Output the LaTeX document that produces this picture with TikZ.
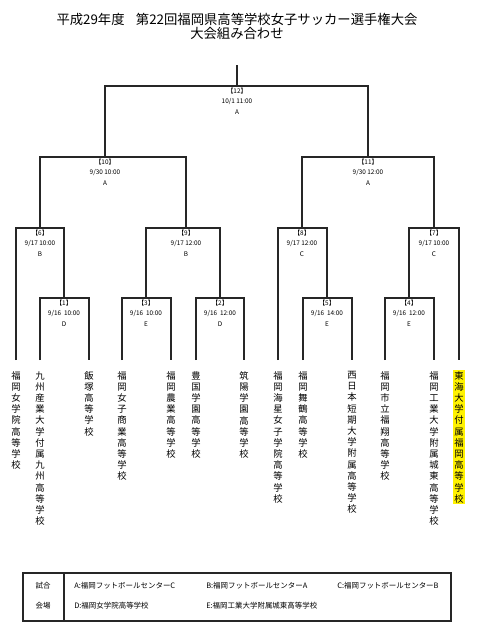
\documentclass[tikz,border=0pt]{standalone}
\usepackage{fontspec}
\setmainfont{Noto Sans CJK JP}
\newcommand{\tatekaki}[1]{\tatefirst#1\relax}
\def\tatefirst#1{#1\tatestep}
\def\tatestep#1{\ifx\relax#1\else\\#1\expandafter\tatestep\fi}

\begin{document}
\begin{tikzpicture}[x=0.75pt,y=-0.75pt,
  bracket/.style={black!85,line width=1.1pt},
  team/.style={anchor=north,align=center,inner sep=1pt,outer sep=7.5pt,font=\fontsize{7pt}{8.4pt}\selectfont},
  info/.style={anchor=north,align=center,inner sep=1pt,font=\fontsize{4.8pt}{7.9pt}\selectfont},
  legend/.style={anchor=west,inner sep=0pt,font=\fontsize{5.6pt}{6pt}\selectfont}]
\useasboundingbox (0,0) rectangle (477,640);
\node[align=center,font=\fontsize{10pt}{10.5pt}\selectfont] (title) at (237,26) {平成29年度\hspace{0.85em}第22回福岡県高等学校女子サッカー選手権大会\\大会組み合わせ};
\coordinate (top) at (237,65);
\coordinate (m12) at (237,86);
\coordinate (m10) at (105,157);
\coordinate (m11) at (368,157);
\coordinate (m6) at (40,228);
\coordinate (m9) at (186,228);
\coordinate (m8) at (302,228);
\coordinate (m7) at (434,228);
\coordinate (m1) at (64,298);
\coordinate (m3) at (146,298);
\coordinate (m2) at (220,298);
\coordinate (m5) at (327,298);
\coordinate (m4) at (409,298);
\node[team] (t1) at (16,360) {\tatekaki{福岡女学院高等学校}};
\node[team] (t2) at (40,360) {\tatekaki{九州産業大学付属九州高等学校}};
\node[team] (t3) at (89,360) {\tatekaki{飯塚高等学校}};
\node[team] (t4) at (122,360) {\tatekaki{福岡女子商業高等学校}};
\node[team] (t5) at (171,360) {\tatekaki{福岡農業高等学校}};
\node[team] (t6) at (196,360) {\tatekaki{豊国学園高等学校}};
\node[team] (t7) at (244,360) {\tatekaki{筑陽学園高等学校}};
\node[team] (t8) at (278,360) {\tatekaki{福岡海星女子学院高等学校}};
\node[team] (t9) at (303,360) {\tatekaki{福岡舞鶴高等学校}};
\node[team] (t10) at (352,360) {\tatekaki{西日本短期大学附属高等学校}};
\node[team] (t11) at (385,360) {\tatekaki{福岡市立福翔高等学校}};
\node[team] (t12) at (434,360) {\tatekaki{福岡工業大学附属城東高等学校}};
\node[team,fill=yellow] (t13) at (459,360) {\tatekaki{東海大学付属福岡高等学校}};
\draw[bracket] (top) -- (m12);
\draw[bracket] (m10) |- (m12) -| (m11);
\draw[bracket] (m6) |- (m10) -| (m9);
\draw[bracket] (m8) |- (m11) -| (m7);
\draw[bracket] (t1) |- (m6) -| (m1);
\draw[bracket] (m3) |- (m9) -| (m2);
\draw[bracket] (t8) |- (m8) -| (m5);
\draw[bracket] (m4) |- (m7) -| (t13);
\draw[bracket] (t2) |- (m1) -| (t3);
\draw[bracket] (t4) |- (m3) -| (t5);
\draw[bracket] (t6) |- (m2) -| (t7);
\draw[bracket] (t9) |- (m5) -| (t10);
\draw[bracket] (t11) |- (m4) -| (t12);
\node[info] (l12) at (m12) {【12】\\10/1 11:00\\A};
\node[info] (l10) at (m10) {【10】\\9/30 10:00\\A};
\node[info] (l11) at (m11) {【11】\\9/30 12:00\\A};
\node[info] (l6) at (m6) {【6】\\9/17 10:00\\B};
\node[info] (l9) at (m9) {【9】\\9/17 12:00\\B};
\node[info] (l8) at (m8) {【8】\\9/17 12:00\\C};
\node[info] (l7) at (m7) {【7】\\9/17 10:00\\C};
\node[info] (l1) at (m1) {【1】\\9/16~~10:00\\D};
\node[info] (l3) at (m3) {【3】\\9/16~~10:00\\E};
\node[info] (l2) at (m2) {【2】\\9/16~~12:00\\D};
\node[info] (l5) at (m5) {【5】\\9/16~~14:00\\E};
\node[info] (l4) at (m4) {【4】\\9/16~~12:00\\E};
\draw[black!85,line width=0.8pt] (23,573) rectangle (451,621);
\draw[black!85,line width=1.2pt] (64,573) -- (64,621);
\node[legend,anchor=center] (shiai) at (43,586) {試合};
\node[legend,anchor=center] (kaijo) at (43,606) {会場};
\node[legend] (vA) at (74,586) {A:福岡フットボールセンターC};
\node[legend] (vB) at (206,586) {B:福岡フットボールセンターA};
\node[legend] (vC) at (337,586) {C:福岡フットボールセンターB};
\node[legend] (vD) at (74,606) {D:福岡女学院高等学校};
\node[legend] (vE) at (206,606) {E:福岡工業大学附属城東高等学校};
\end{tikzpicture}
\end{document}
